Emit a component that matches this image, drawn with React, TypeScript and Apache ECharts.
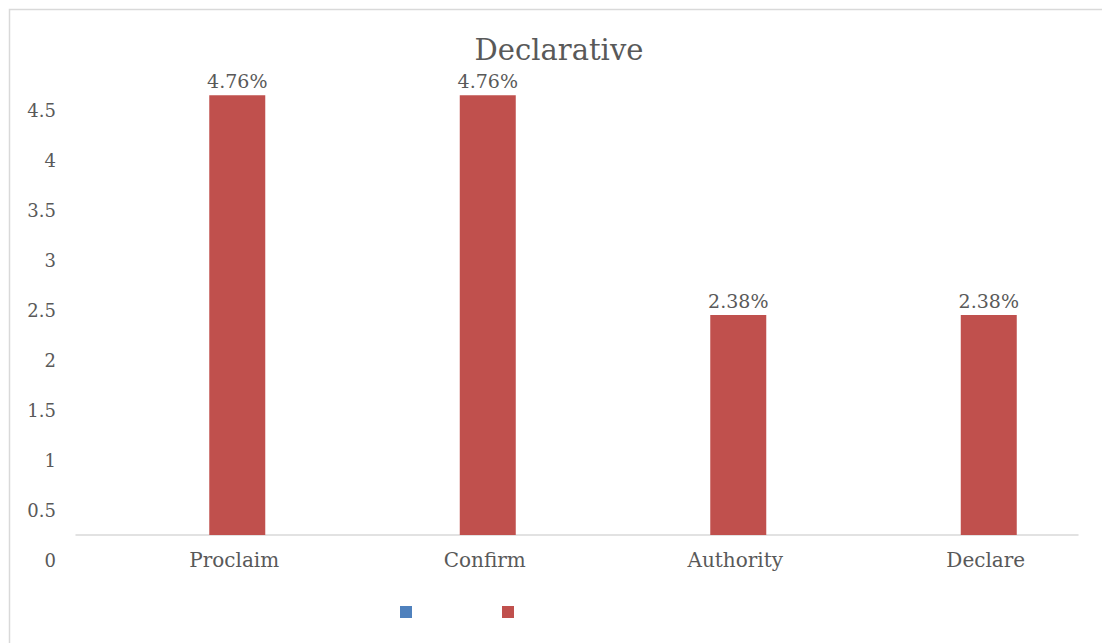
import React, { useEffect, useRef } from "react";
import * as echarts from "echarts";

const categories = ["Proclaim", "Confirm", "Authority", "Declare"];
const seriesNames = ["Series1", "Series2"];
const series1Values = [0, 0, 0, 0];
const series2Values = [4.76, 4.76, 2.38, 2.38];
const yTickMin = 0;
const yTickMax = 4.5;
const yTickStep = 0.5;
const titleText = "Declarative";

const FONT = "DejaVu Serif";
const TEXT = "#595959";

export default function App() {
  const ref = useRef<HTMLDivElement>(null);
  useEffect(() => {
    if (!ref.current) return;
    const chart = echarts.init(ref.current, undefined, { renderer: "svg" });
    chart.setOption({
      animation: false,
      backgroundColor: "#ffffff",
      title: {
        text: titleText,
        left: 559,
        textAlign: "center",
        top: 35,
        padding: 0,
        textStyle: { fontFamily: FONT, fontSize: 29, fontWeight: "normal", color: TEXT },
      },
      legend: {
        data: seriesNames,
        left: 400,
        top: 606,
        padding: 0,
        itemWidth: 12,
        itemHeight: 12,
        itemGap: 90,
        icon: "rect",
        formatter: () => "",
        selectedMode: false,
      },
      graphic: [
        {
          type: "rect",
          shape: { x: 9.5, y: 9.5, width: 1200, height: 700 },
          style: { fill: "none", stroke: "#d9d9d9", lineWidth: 1.5 },
          silent: true,
        },
      ],
      grid: [
        { left: 76, right: 24, top: 73, bottom: 108 },
        { left: 64, right: 24, top: 110, bottom: 83 },
      ],
      xAxis: [
        {
          type: "category",
          gridIndex: 0,
          data: categories,
          axisLine: { lineStyle: { color: "#d9d9d9", width: 1.5 } },
          axisTick: { show: false },
          axisLabel: {
            fontFamily: FONT,
            fontSize: 20,
            color: TEXT,
            margin: 15,
            padding: [0, 0, 0, 66],
          },
        },
        { type: "category", gridIndex: 1, data: categories, show: false },
      ],
      yAxis: [
        { type: "value", gridIndex: 0, min: 0, max: 5, show: false, splitLine: { show: false } },
        {
          type: "value",
          gridIndex: 1,
          min: yTickMin,
          max: yTickMax,
          interval: yTickStep,
          axisLine: { show: false },
          axisTick: { show: false },
          splitLine: { show: false },
          axisLabel: { fontFamily: FONT, fontSize: 18, color: TEXT, margin: 8 },
        },
      ],
      series: [
        {
          name: seriesNames[0],
          type: "bar",
          xAxisIndex: 0,
          yAxisIndex: 0,
          data: series1Values,
          barWidth: 56,
          barGap: "28.6%",
          itemStyle: { color: "#4F81BD" },
        },
        {
          name: seriesNames[1],
          type: "bar",
          xAxisIndex: 0,
          yAxisIndex: 0,
          data: series2Values,
          barWidth: 56,
          barGap: "28.6%",
          itemStyle: { color: "#C0504D" },
          label: {
            show: true,
            position: "top",
            distance: 5,
            formatter: (p: any) => `${p.value.toFixed(2)}%`,
            fontFamily: FONT,
            fontSize: 19,
            color: TEXT,
          },
        },
      ],
    });
    return () => chart.dispose();
  }, []);
  return (
    <div
      ref={ref}
      style={{ position: "fixed", left: 0, top: 0, width: 1102, height: 643 }}
    />
  );
}
